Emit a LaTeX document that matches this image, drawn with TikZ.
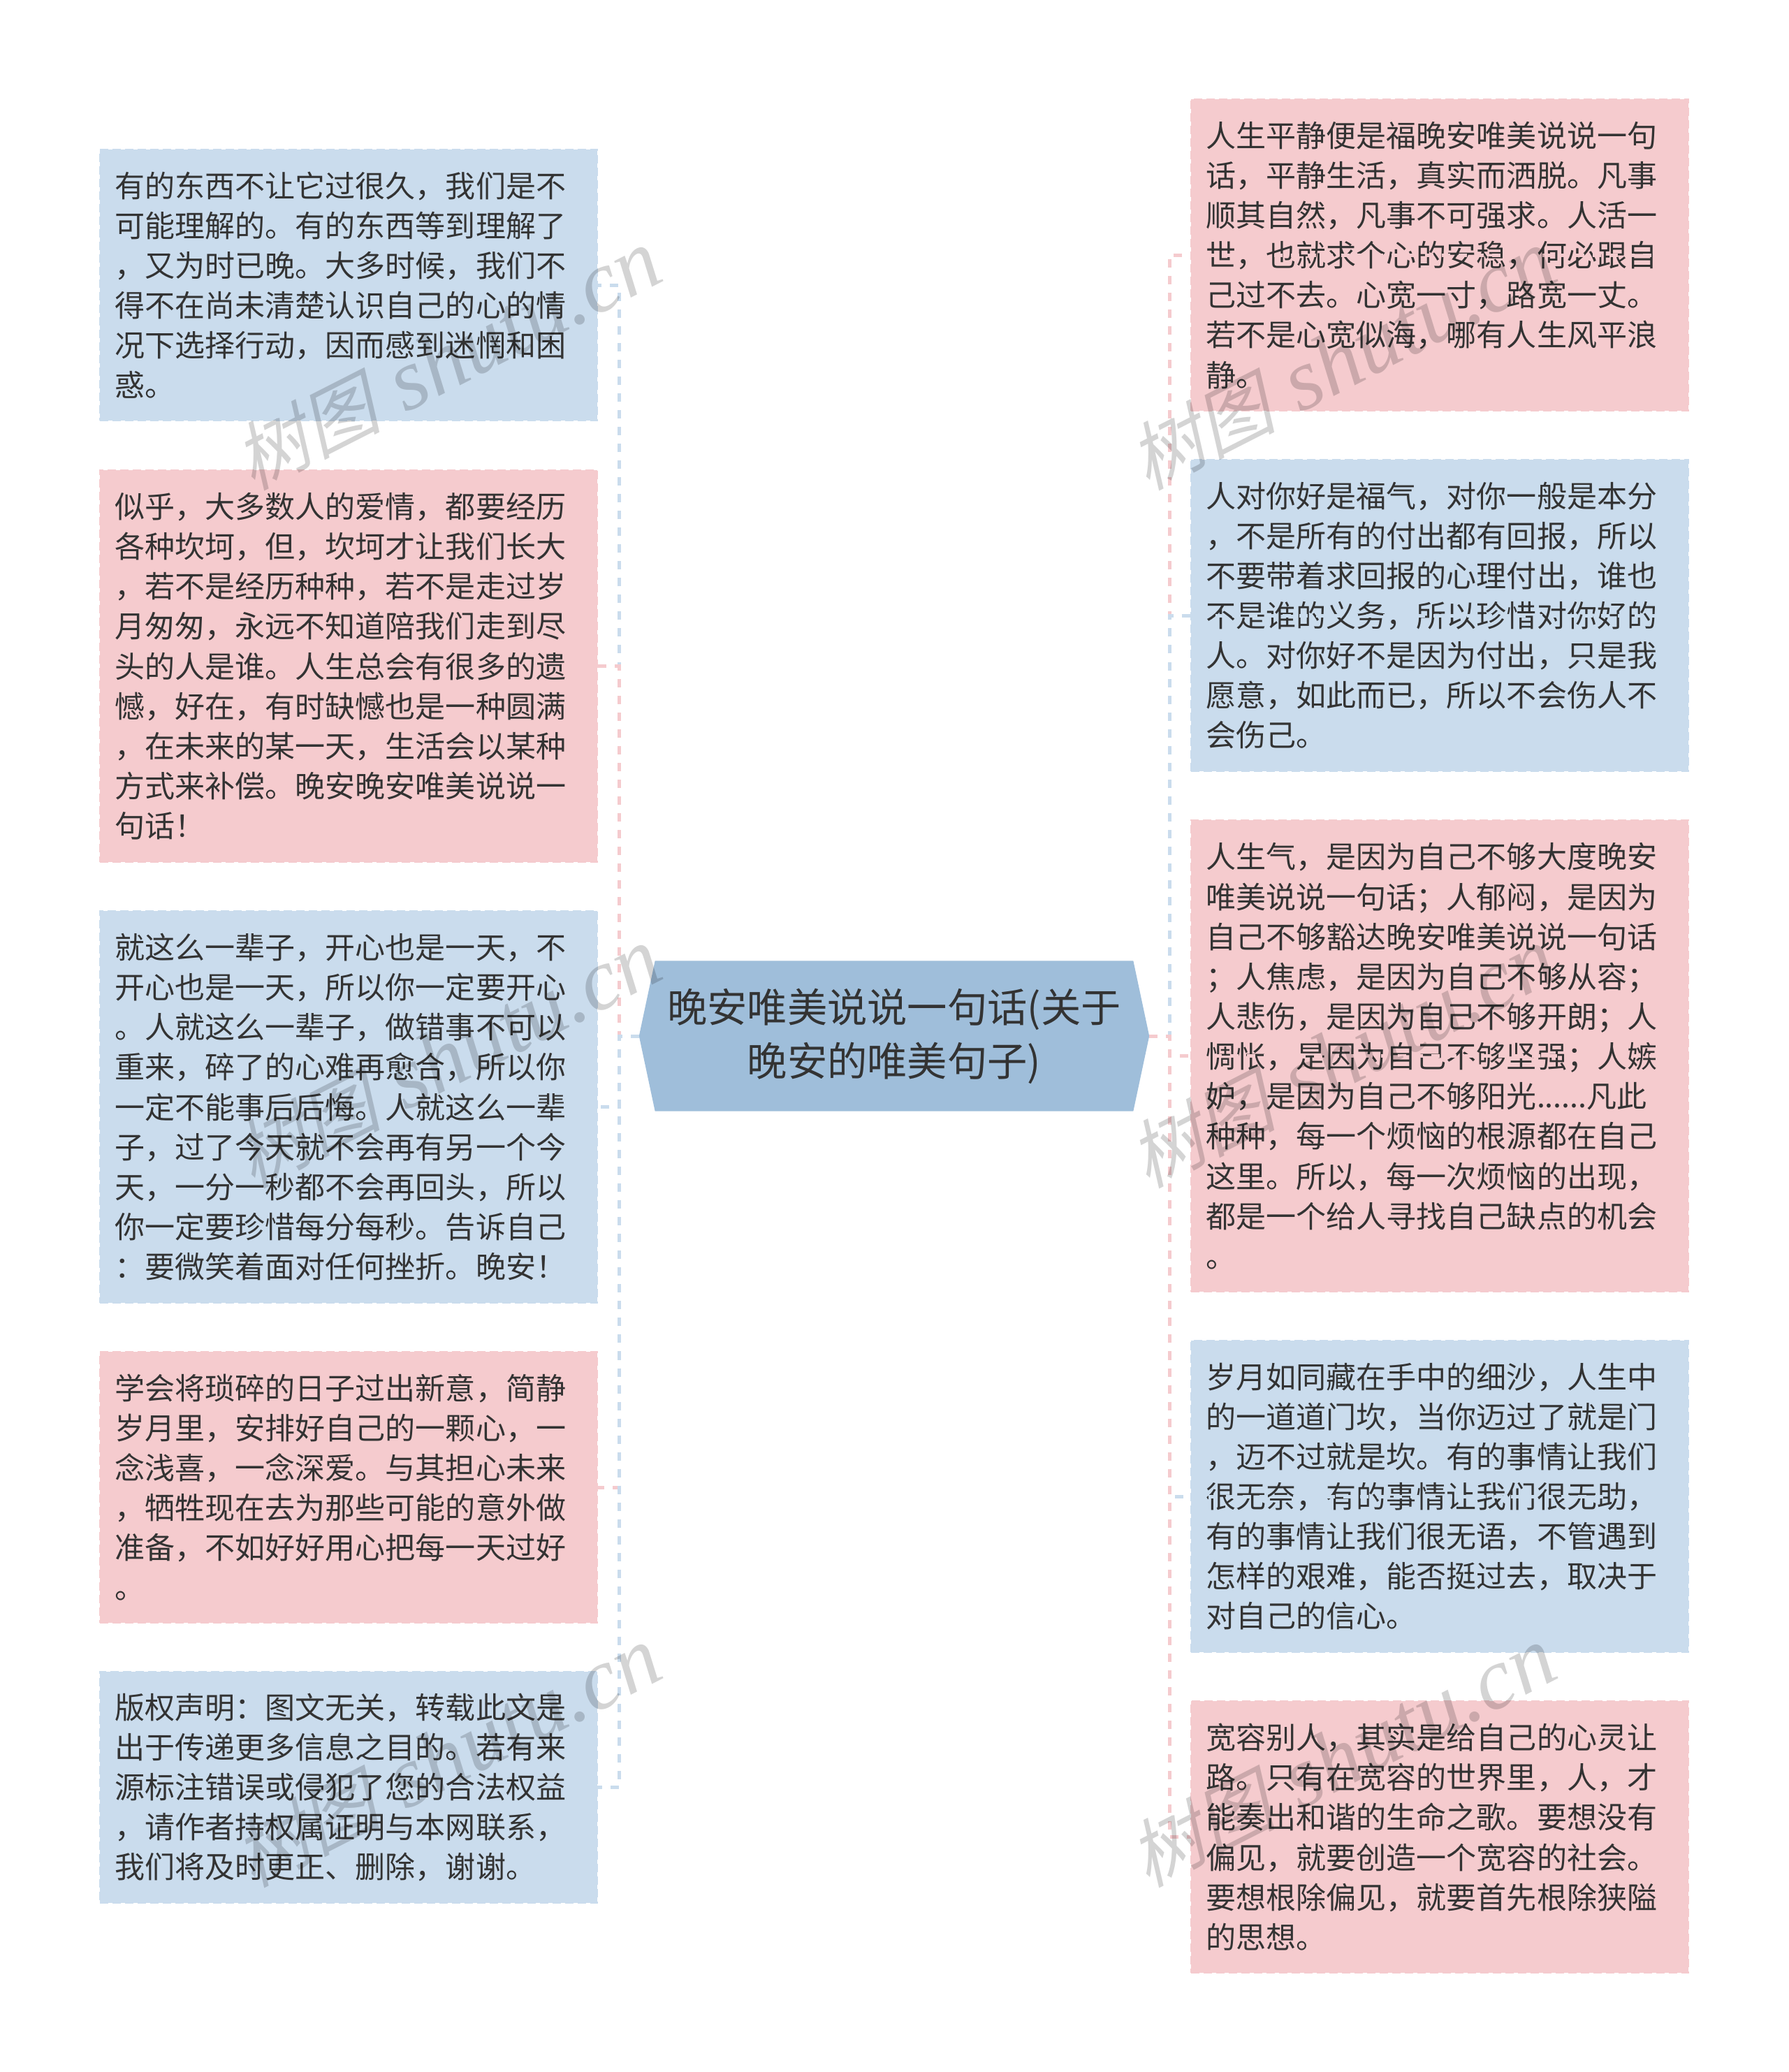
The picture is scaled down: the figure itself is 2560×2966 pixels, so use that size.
\documentclass[tikz,border=0pt]{standalone}
\usepackage{fontspec}
\setmainfont{Noto Sans CJK SC}
\newfontfamily\markcjk[FakeSlant=0.25]{Noto Sans CJK SC}
\newfontfamily\marklatin{Liberation Serif}[ItalicFont=* Italic]
\usetikzlibrary{shapes.symbols}
\definecolor{pinkfill}{HTML}{F5CBCE}
\definecolor{bluefill}{HTML}{CADCED}
\definecolor{rootfill}{HTML}{9FBEDA}
\definecolor{inktext}{HTML}{333333}
\tikzset{
    textbox/.style={anchor=north west,align=left,text=inktext,outer sep=0pt,inner sep=0pt,
        text width=6.69cm,minimum width=7.12cm,line width=0.02cm,
        dash pattern=on 0.12cm off 0.06cm,
        font=\fontsize{12.24pt}{16.25pt}\selectfont},
    bluebox/.style={textbox,fill=bluefill,draw=bluefill},
    pinkbox/.style={textbox,fill=pinkfill,draw=pinkfill},
    rootbox/.style={signal,signal to=west and east,signal pointer angle=156,
        fill=rootfill,text=inktext,align=center,outer sep=0pt,inner sep=0pt,
        minimum width=7.3cm,minimum height=2.15cm,
        font=\fontsize{16.3pt}{21.9pt}\selectfont},
    bluelink/.style={draw=bluefill,line width=0.05cm,dash pattern=on 0.12cm off 0.12cm},
    pinklink/.style={draw=pinkfill,line width=0.05cm,dash pattern=on 0.12cm off 0.12cm},
    markbox/.style={rotate=27,text=black,opacity=0.17,inner sep=0pt}
}
\begin{document}
\begin{tikzpicture}[x=0.01cm,y=-0.01cm]
    \useasboundingbox (0,0) rectangle (2560,2966);

    \node[rootbox] (root) at (1280,1483) {晚安唯美说说一句话(关于\\晚安的唯美句子)};

    % left column
    \node[bluebox,minimum height=3.88cm] (lefta) at (143,214) {有的东西不让它过很久，我们是不\\可能理解的。有的东西等到理解了\\，又为时已晚。大多时候，我们不\\得不在尚未清楚认识自己的心的情\\况下选择行动，因而感到迷惘和困\\惑。};
    \node[pinkbox,minimum height=5.61cm] (leftb) at (143,673) {似乎，大多数人的爱情，都要经历\\各种坎坷，但，坎坷才让我们长大\\，若不是经历种种，若不是走过岁\\月匆匆，永远不知道陪我们走到尽\\头的人是谁。人生总会有很多的遗\\憾，好在，有时缺憾也是一种圆满\\，在未来的某一天，生活会以某种\\方式来补偿。晚安晚安唯美说说一\\句话！};
    \node[bluebox,minimum height=5.61cm] (leftc) at (143,1304) {就这么一辈子，开心也是一天，不\\开心也是一天，所以你一定要开心\\。人就这么一辈子，做错事不可以\\重来，碎了的心难再愈合，所以你\\一定不能事后后悔。人就这么一辈\\子，过了今天就不会再有另一个今\\天，一分一秒都不会再回头，所以\\你一定要珍惜每分每秒。告诉自己\\：要微笑着面对任何挫折。晚安！};
    \node[pinkbox,minimum height=3.88cm] (leftd) at (143,1935) {学会将琐碎的日子过出新意，简静\\岁月里，安排好自己的一颗心，一\\念浅喜，一念深爱。与其担心未来\\，牺牲现在去为那些可能的意外做\\准备，不如好好用心把每一天过好\\。};
    \node[bluebox,minimum height=3.31cm] (lefte) at (143,2393) {版权声明：图文无关，转载此文是\\出于传递更多信息之目的。若有来\\源标注错误或侵犯了您的合法权益\\，请作者持权属证明与本网联系，\\我们将及时更正、删除，谢谢。};

    % right column
    \node[pinkbox,minimum height=4.46cm] (righta) at (1705,142) {人生平静便是福晚安唯美说说一句\\话，平静生活，真实而洒脱。凡事\\顺其自然，凡事不可强求。人活一\\世，也就求个心的安稳，何必跟自\\己过不去。心宽一寸，路宽一丈。\\若不是心宽似海，哪有人生风平浪\\静。};
    \node[bluebox,minimum height=4.46cm] (rightb) at (1705,658) {人对你好是福气，对你一般是本分\\，不是所有的付出都有回报，所以\\不要带着求回报的心理付出，谁也\\不是谁的义务，所以珍惜对你好的\\人。对你好不是因为付出，只是我\\愿意，如此而已，所以不会伤人不\\会伤己。};
    \node[pinkbox,minimum height=6.75cm] (rightc) at (1705,1174) {人生气，是因为自己不够大度晚安\\唯美说说一句话；人郁闷，是因为\\自己不够豁达晚安唯美说说一句话\\；人焦虑，是因为自己不够从容；\\人悲伤，是因为自己不够开朗；人\\惆怅，是因为自己不够坚强；人嫉\\妒，是因为自己不够阳光......凡此\\种种，每一个烦恼的根源都在自己\\这里。所以，每一次烦恼的出现，\\都是一个给人寻找自己缺点的机会\\。};
    \node[bluebox,minimum height=4.46cm] (rightd) at (1705,1919) {岁月如同藏在手中的细沙，人生中\\的一道道门坎，当你迈过了就是门\\，迈不过就是坎。有的事情让我们\\很无奈，有的事情让我们很无助，\\有的事情让我们很无语，不管遇到\\怎样的艰难，能否挺过去，取决于\\对自己的信心。};
    \node[pinkbox,minimum height=3.89cm] (righte) at (1705,2435) {宽容别人，其实是给自己的心灵让\\路。只有在宽容的世界里，人，才\\能奏出和谐的生命之歌。要想没有\\偏见，就要创造一个宽容的社会。\\要想根除偏见，就要首先根除狭隘\\的思想。};

    % connectors, later ones lie over earlier ones
    \coordinate (hubleft) at (886,1483);
    \coordinate (hubright) at (1674,1483);
    \draw[bluelink] (root.west) -- (hubleft) |- (lefta.east);
    \draw[pinklink] (root.west) -- (hubleft) |- (leftb.east);
    \draw[bluelink] (root.west) -- (hubleft) |- (leftc.east);
    \draw[pinklink] (root.west) -- (hubleft) |- (leftd.east);
    \draw[bluelink] (root.west) -- (hubleft) |- (lefte.east);
    \draw[pinklink] (root.east) -- (hubright) |- (righta.east);
    \draw[bluelink] (root.east) -- (hubright) |- (rightb.east);
    \draw[pinklink] (root.east) -- (hubright) |- (rightc.east);
    \draw[bluelink] (root.east) -- (hubright) |- (rightd.east);
    \draw[pinklink] (root.east) -- (hubright) |- (righte.east);

    % watermarks
    \foreach \col/\x in {l/640,r/1921} {
        \foreach \row/\y in {a/516,b/1515,c/2516} {
            \node[markbox] (mark\col\row) at (\x,\y) {{\fontsize{30pt}{30pt}\selectfont\markcjk 树图}\hspace{0.35cm}{\fontsize{35.5pt}{35.5pt}\selectfont\marklatin\itshape shutu.cn}};
        }
    }
\end{tikzpicture}
\end{document}
